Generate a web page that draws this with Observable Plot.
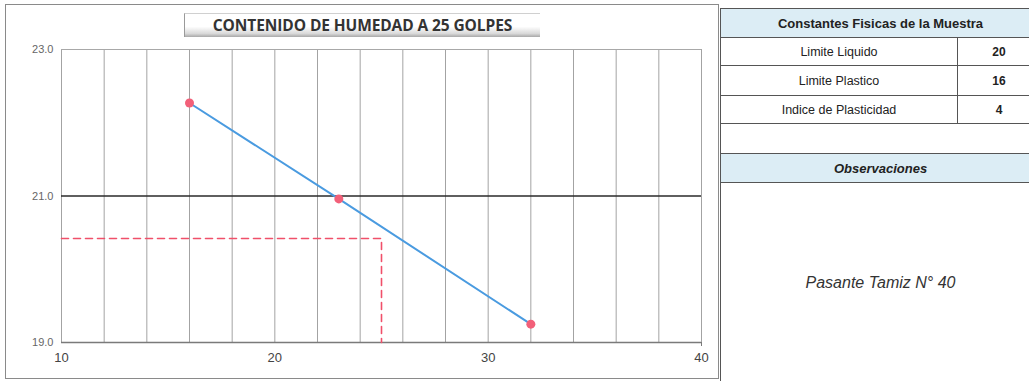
<!DOCTYPE html>
<html>
<head>
<meta charset="utf-8">
<script src="https://cdn.jsdelivr.net/npm/d3@7"></script>
<script src="https://cdn.jsdelivr.net/npm/@observablehq/plot@0.6"></script>
<style>
  html, body { margin: 0; padding: 0; background: #fff; }
  body { width: 1029px; height: 381px; position: relative; overflow: hidden; font-family: "Liberation Sans", Arial, sans-serif; }
  #frame { position: absolute; left: 5px; top: 4px; width: 714px; height: 375px; border: 1px solid #8a8a8a; box-sizing: border-box; }
  #chart { position: absolute; left: 0; top: 0; }
  #title {
    position: absolute; left: 184px; top: 13px; width: 356px; height: 24px; box-sizing: border-box;
    border-left: 1.5px solid #9a9a9a; border-top: 1px solid #d0d0d0;
    background: linear-gradient(to bottom, #ffffff 0%, #ffffff 55%, #d9d9d9 85%, #a8a8a8 100%);
    font-family: "Open Sans", sans-serif; font-weight: 700; font-size: 15.5px; color: #333;
    text-align: center; line-height: 23px; letter-spacing: -0.1px; white-space: nowrap;
  }
  #consts { position: absolute; left: 720px; top: 8px; width: 320px; border-collapse: collapse; table-layout: fixed; }
  #consts td { border: 1.5px solid #555; padding: 0; text-align: center; color: #222; font-size: 12.5px; }
  #consts td.head { background: #dcedf5; font-weight: 700; font-size: 13px; }
  #consts td.obs { font-style: italic; }
  #consts td.val { font-weight: 700; font-size: 12px; }
  #consts td.note { font-style: italic; font-weight: 400; font-size: 16px; color: #333; vertical-align: top; }
</style>
</head>
<body>
<div id="frame"></div>
<div id="chart"></div>
<div id="title"></div>
<table id="consts"></table>
<script>
// Number of blows vs. moisture content (%) of the three liquid-limit trials
const golpes = [16, 23, 32];
const humedad = [22.27, 20.96, 19.25];

// Reference reading at 25 blows
const golpesRef = 25;
const humedadRef = 20.42;

// Axis ticks
const xTicks = [10, 20, 30, 40];
const yTicks = [19.0, 21.0, 23.0];
const xGrid = [10, 12, 14, 16, 18, 20, 22, 24, 26, 28, 30, 32, 34, 36, 38, 40];

// Summary table
const titulo = "CONTENIDO DE HUMEDAD A 25 GOLPES";
const tablaTitulo = "Constantes Fisicas de la Muestra";
const constantes = ["Limite Liquido", "Limite Plastico", "Indice de Plasticidad"];
const valores = [20, 16, 4];
const obsTitulo = "Observaciones";
const observacion = "Pasante Tamiz N° 40";

const ensayos = golpes.map((g, i) => ({golpes: g, humedad: humedad[i]}));
const guia = [
  {golpes: xTicks[0], humedad: humedadRef},
  {golpes: golpesRef, humedad: humedadRef},
  {golpes: golpesRef, humedad: yTicks[0]}
];

const chart = Plot.plot({
  width: 715,
  height: 381,
  marginLeft: 61,
  marginRight: 14,
  marginTop: 49,
  marginBottom: 39,
  style: {fontFamily: "Liberation Sans, Arial, sans-serif", background: "transparent", overflow: "visible"},
  x: {domain: [10, 40], label: null},
  y: {domain: [19, 23], label: null},
  marks: [
    Plot.ruleX(xGrid, {stroke: "#a3a3a3", strokeWidth: 1}),
    Plot.ruleY([23], {stroke: "#a8a8a8", strokeWidth: 1}),
    Plot.ruleY([21], {stroke: "#2a2a2a", strokeWidth: 1.6}),
    Plot.ruleY([19], {stroke: "#7a7a7a", strokeWidth: 1.6}),
    Plot.line(guia, {x: "golpes", y: "humedad", stroke: "#f0506a", strokeWidth: 1.6, strokeDasharray: "7,5"}),
    Plot.line(ensayos, {x: "golpes", y: "humedad", stroke: "#4a9be0", strokeWidth: 2}),
    Plot.dot(ensayos, {x: "golpes", y: "humedad", r: 4.5, fill: "#f26079", stroke: "none"}),
    Plot.axisX([40], {tickSize: 4, stroke: "#7a7a7a", text: null, label: null}),
    Plot.axisX(xTicks, {tickSize: 0, tickPadding: 10, fontSize: 13, fill: "#444", label: null}),
    Plot.axisY(yTicks, {tickSize: 0, tickPadding: 8, fontSize: 11, fill: "#666", tickFormat: d3.format(".1f"), label: null})
  ]
});
document.getElementById("chart").appendChild(chart);
document.getElementById("title").textContent = titulo;

// Build the constants table
const tabla = document.getElementById("consts");
const colgroup = document.createElement("colgroup");
colgroup.innerHTML = '<col style="width:237px"><col style="width:83px">';
tabla.appendChild(colgroup);
function fila(h) { const tr = document.createElement("tr"); tr.style.height = h + "px"; tabla.appendChild(tr); return tr; }
function celda(tr, text, cls, span) {
  const td = document.createElement("td");
  td.textContent = text;
  if (cls) td.className = cls;
  if (span) td.colSpan = span;
  tr.appendChild(td);
  return td;
}
celda(fila(29), tablaTitulo, "head", 2);
const alturas = [28, 30, 28];
constantes.forEach((c, i) => {
  const tr = fila(alturas[i]);
  celda(tr, c);
  celda(tr, valores[i], "val");
});
celda(fila(30), "", null, 2);
celda(fila(29), obsTitulo, "head obs", 2);
const nota = celda(fila(210), observacion, "note", 2);
nota.style.paddingTop = "91px";
</script>
</body>
</html>
